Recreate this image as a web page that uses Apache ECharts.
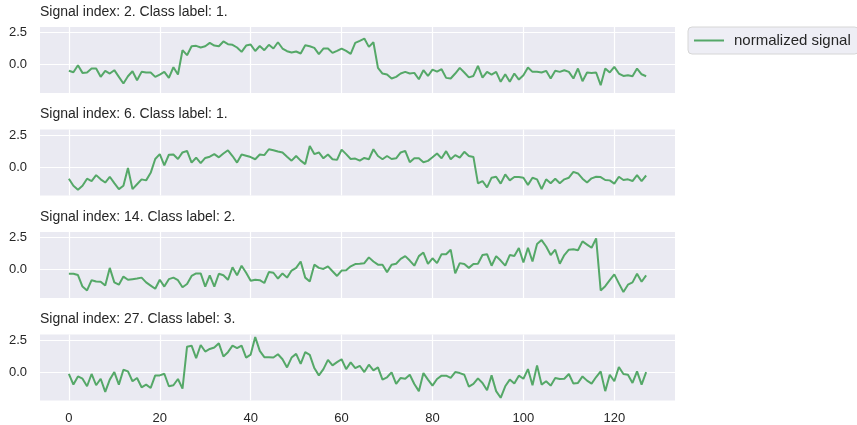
<!DOCTYPE html>
<html>
<head>
<meta charset="utf-8">
<script src="https://cdn.jsdelivr.net/npm/echarts@6/dist/echarts.min.js"></script>
<style>
html, body { margin: 0; padding: 0; background: #fff; }
#main { width: 857px; height: 425px; }
</style>
</head>
<body>
<div id="main"></div>
<script>
// 刻度
var xTicks = [0, 20, 40, 60, 80, 100, 120];
var yTicks = [0, 2.5];
var legendName = 'normalized signal';
var titles = [
	'Signal index: 2. Class label: 1.',
	'Signal index: 6. Class label: 1.',
	'Signal index: 14. Class label: 2.',
	'Signal index: 27. Class label: 3.'
];

// 各信号数据 (0..127)
var signal2 = [-0.49,-0.6,-0.05,-0.65,-0.62,-0.31,-0.31,-0.96,-0.49,-0.7,
	-0.44,-0.96,-1.48,-0.91,-0.52,-1.22,-0.57,-0.62,-0.62,-0.96,
	-0.78,-0.57,-1.04,-0.21,-0.78,1.12,0.73,1.43,1.46,1.33,
	1.43,1.69,1.48,1.43,1.8,1.59,1.54,1.33,0.99,1.48,
	1.56,1.06,1.45,1.12,1.54,1.25,1.74,1.25,1.04,0.94,
	1.02,0.86,1.51,1.43,1.3,0.81,1.25,1.25,0.91,1.07,
	1.25,1.07,0.83,1.69,1.85,2.03,1.38,1.74,-0.26,-0.7,
	-0.78,-1.09,-0.96,-0.7,-0.57,-0.7,-0.65,-1.15,-0.44,-0.89,
	-0.39,-0.55,-0.36,-1.04,-1.09,-0.7,-0.26,-0.62,-1.0,-0.89,
	-0.1,-1.02,-0.57,-0.78,-0.57,-1.35,-0.76,-1.35,-0.7,-1.17,
	-0.83,-0.23,-0.57,-0.57,-0.62,-0.49,-1.09,-0.49,-0.57,-0.44,
	-0.57,-1.09,-0.31,-1.3,-0.62,-0.65,-0.62,-1.61,-0.31,-0.62,
	-0.18,-0.7,-0.89,-0.83,-0.91,-0.31,-0.76,-0.91];

var signal6 = [-0.91,-1.46,-1.77,-1.46,-0.91,-1.09,-0.63,-0.96,-1.21,-0.76,
	-1.26,-1.72,-1.46,-0.08,-1.72,-1.34,-0.96,-1.04,-0.45,0.63,
	1.01,0.13,0.96,0.98,0.63,1.14,1.26,0.35,0.73,0.3,
	0.71,0.81,1.01,0.76,1.06,1.31,0.86,0.35,0.98,0.88,
	0.78,0.61,0.98,0.93,1.39,1.31,1.21,1.14,0.81,0.5,
	0.86,0.5,0.23,1.64,1.01,1.14,0.68,0.98,0.61,0.56,
	1.36,1.01,0.63,0.66,0.5,0.71,0.61,1.39,0.86,0.61,
	0.86,0.63,0.68,1.14,1.26,0.38,0.68,0.68,0.38,0.48,
	0.76,1.06,0.68,1.24,0.61,0.93,0.73,1.19,0.87,0.79,
	-1.28,-1.09,-1.59,-0.83,-0.76,-1.29,-0.58,-1.04,-0.78,-0.78,
	-0.83,-1.39,-0.83,-0.96,-1.72,-0.96,-1.26,-0.91,-1.26,-0.96,
	-0.83,-0.38,-0.5,-0.91,-1.21,-0.88,-0.76,-0.78,-1.01,-1.04,
	-1.29,-0.76,-1.01,-0.96,-1.09,-0.63,-1.09,-0.66];

var signal14 = [-0.33,-0.33,-0.43,-1.33,-1.63,-0.83,-0.93,-0.95,-1.25,0.13,
	-1.0,-1.18,-0.55,-0.8,-0.75,-0.7,-0.63,-1.0,-1.25,-1.5,
	-0.8,-1.33,-0.75,-0.63,-0.83,-1.38,-1.13,-0.5,-0.3,-0.3,
	-1.33,-0.45,-1.33,-0.33,-0.45,-0.8,0.18,-0.45,0.3,-0.25,
	-0.88,-0.8,-0.83,-1.05,-0.2,-0.25,-0.7,-0.3,-0.63,-0.08,
	0.13,0.63,-0.63,-0.93,0.38,0.13,0.05,0.25,-0.13,-0.5,
	-0.08,-0.05,0.25,0.43,0.45,0.5,0.95,0.63,0.38,0.38,
	-0.2,0.38,0.45,0.83,1.05,0.7,0.3,1.05,1.33,0.45,
	0.88,0.5,1.2,1.2,1.55,-0.3,0.5,0.43,0.13,0.43,
	0.45,1.13,1.2,0.3,1.05,0.7,0.3,1.13,1.05,1.68,
	0.55,1.7,0.63,2.0,2.3,1.8,1.13,1.55,0.45,1.13,
	1.55,1.58,1.5,2.2,1.95,1.7,2.43,-1.63,-1.3,-0.83,
	-0.38,-1.08,-1.75,-1.18,-1.0,-0.33,-0.95,-0.45];

var signal27 = [-0.15,-0.98,-0.34,-0.52,-1.11,-0.15,-1.03,-0.52,-1.55,-0.59,
	0,-0.98,0.18,0.05,-0.72,-0.46,-1.19,-0.98,-1.24,-0.26,
	-0.26,-0.13,-1.11,-1.03,-0.54,-1.29,1.98,2.06,1.08,2.11,
	1.6,1.8,1.91,2.24,1.21,1.55,2.06,1.86,2.06,1.13,
	1.36,2.73,1.65,1.16,1.16,1.13,1.39,1.0,0.36,1.13,
	1.42,0.64,1.55,1.34,0.31,-0.26,0.23,0.95,0.52,0.77,
	1.0,0.23,0.75,0.31,0.49,0,0.57,0.13,0.36,-0.59,
	-0.41,-0.03,-0.93,-0.46,-0.52,-0.21,-0.93,-1.49,-0.08,-0.59,
	-1.06,-0.54,-0.28,-0.28,-0.46,0,-0.08,-0.21,-1.13,-0.92,
	-0.49,-0.85,-1.42,-0.26,-1.49,-2.01,-1.11,-0.59,-0.9,-0.28,
	-0.52,0.23,-1.03,0.52,-0.98,-0.72,-1.06,-0.46,-0.54,-0.52,
	-0.15,-0.9,-0.85,-0.34,-0.67,-0.9,-0.39,0.05,-1.49,-0.21,
	-0.72,0.39,-0.15,-0.21,-0.85,0.05,-0.98,0];

var signals = [signal2, signal6, signal14, signal27];

var fontName = '"Liberation Sans", Arial, sans-serif';
var textColor = '#262626';
var lineColor = '#55A868';
var gridTops = [27, 129.5, 232, 334.5];

var myChart = echarts.init(document.getElementById('main'));

var grids = [], xAxes = [], yAxes = [], series = [], titleList = [];
for (var k = 0; k < signals.length; k++) {
	grids.push({
		left : 40,
		top : gridTops[k],
		width : 635,
		height : 66,
		show : true,
		backgroundColor : '#EAEAF2',
		borderWidth : 0
	});
	titleList.push({
		text : titles[k],
		left : 40,
		top : gridTops[k] - 22,
		padding : 0,
		textStyle : {
			fontSize : 14,
			fontWeight : 'normal',
			color : textColor,
			fontFamily : fontName
		}
	});
	xAxes.push({
		type : 'value',
		gridIndex : k,
		min : -6.35,
		max : 133.35,
		axisLine : { show : false },
		axisTick : { show : false, customValues : xTicks },
		axisLabel : {
			show : k == signals.length - 1,
			customValues : xTicks,
			margin : 11,
			fontSize : 13,
			color : textColor,
			fontFamily : fontName
		},
		splitLine : { show : true, lineStyle : { color : '#ffffff', width : 1.2 } }
	});
	yAxes.push({
		type : 'value',
		gridIndex : k,
		min : -2.22,
		max : 2.93,
		axisLine : { show : false },
		axisTick : { show : false, customValues : yTicks },
		axisLabel : {
			customValues : yTicks,
			margin : 13,
			fontSize : 13,
			color : textColor,
			fontFamily : fontName,
			formatter : function(v) { return v.toFixed(1); }
		},
		splitLine : { show : true, lineStyle : { color : '#ffffff', width : 1.2 } }
	});
	series.push({
		name : legendName,
		type : 'line',
		xAxisIndex : k,
		yAxisIndex : k,
		symbol : 'none',
		data : signals[k].map(function(v, i) { return [i, v]; }),
		lineStyle : { color : lineColor, width : 2 },
		itemStyle : { color : lineColor }
	});
}

var option = {
	animation : false,
	title : titleList,
	legend : {
		data : [legendName],
		left : 688,
		top : 27,
		padding : [6, 8, 6, 6],
		icon : 'rect',
		itemWidth : 30,
		itemHeight : 2,
		backgroundColor : '#EEEEF5',
		borderColor : '#D6D6D6',
		borderWidth : 1,
		borderRadius : 4,
		textStyle : {
			fontSize : 15,
			color : textColor,
			fontFamily : fontName,
			padding : [0, 0, 0, 5]
		}
	},
	grid : grids,
	xAxis : xAxes,
	yAxis : yAxes,
	series : series
};
myChart.setOption(option);
</script>
</body>
</html>
